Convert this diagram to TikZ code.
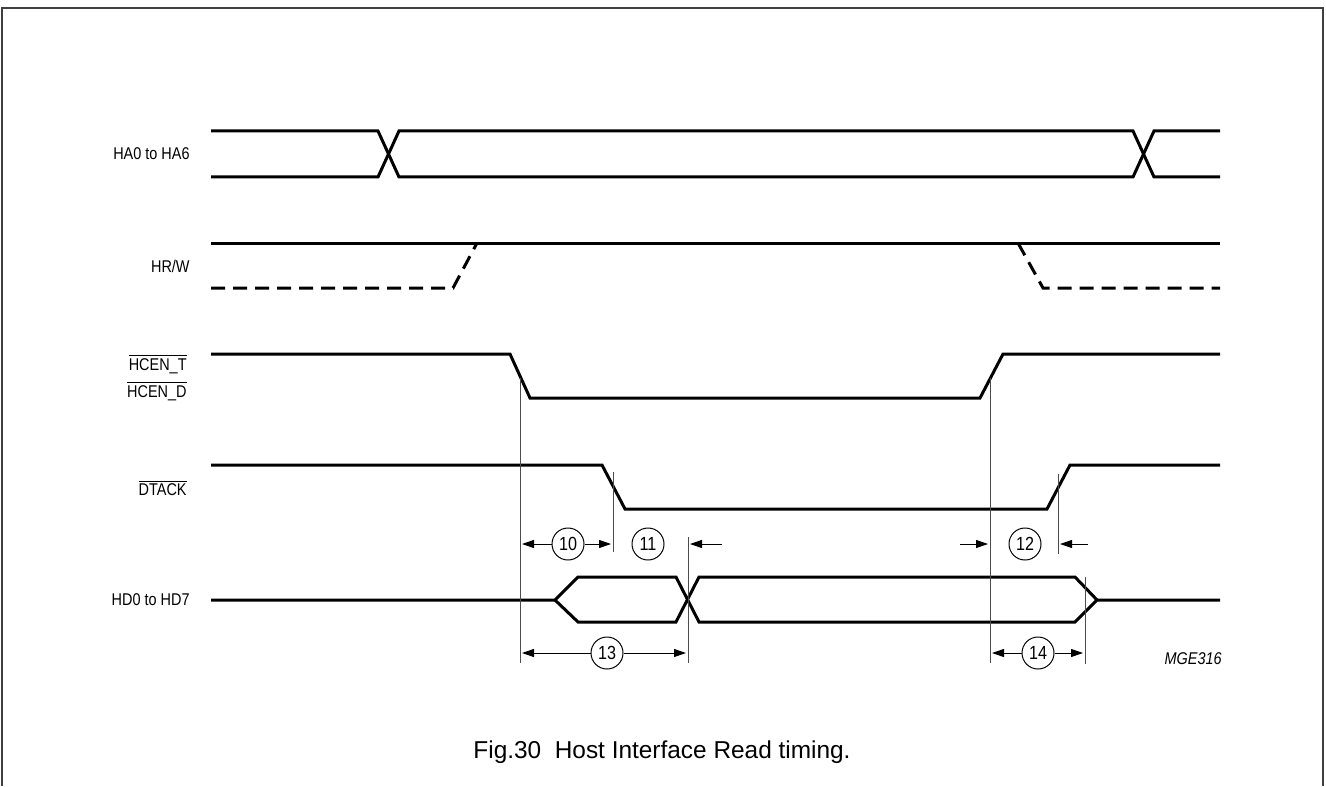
\documentclass[tikz,border=0pt]{standalone}
\usepackage{fontspec}
\setmainfont{Liberation Sans}
\newfontfamily\narrowfont[FakeStretch=0.85]{Liberation Sans}
\usetikzlibrary{arrows.meta}

\begin{document}
\begin{tikzpicture}[x=0.5pt,y=-0.5pt,
    wave/.style={line width=1.5pt,line join=miter},
    wavedash/.style={wave,dash pattern=on 7pt off 4pt},
    refline/.style={line width=0.5pt,black!70},
    dimarrow/.style={line width=0.5pt,-{Triangle[length=6pt,width=4pt]}},
    tnum/.style={circle,draw,line width=0.5pt,minimum size=16pt,inner sep=0pt,font=\narrowfont\fontsize{9.5}{10}\selectfont},
    siglabel/.style={anchor=east,inner sep=0pt,font=\narrowfont\fontsize{8.5}{9}\selectfont}]
        % fix the size of the page
        \useasboundingbox (0,0) rectangle (1326,786);
        % open frame round the figure
        \draw[line width=1.2pt,black!75] (2,786) -- (2,8) -- (1323,8) -- (1323,786);
        % names of the signals
        \node[siglabel] (lHA) at (190,154) {HA0 to HA6};
        \node[siglabel] (lRW) at (190,266) {HR/W};
        \node[siglabel] (lCT) at (187,364) {$\overline{\mbox{HCEN\_T}}$};
        \node[siglabel] (lCD) at (187,391) {$\overline{\mbox{HCEN\_D}}$};
        \node[siglabel] (lDT) at (187,488) {$\overline{\mbox{DTACK}}$};
        \node[siglabel] (lHD) at (190,600) {HD0 to HD7};
        % address bus
        \draw[wave] (211,131) -- (378,131) -- (399,177) -- (1133,177) -- (1154,131) -- (1220,131);
        \draw[wave] (211,177) -- (378,177) -- (399,131) -- (1133,131) -- (1154,177) -- (1220,177);
        % read / write line
        \draw[wave] (211,243) -- (1220,243);
        \draw[wavedash] (211,288) -- (453,288) -- (477,243);
        \draw[wavedash] (1018,243) -- (1043,288) -- (1220,288);
        % chip enable
        \draw[wave] (211,354) -- (510,354) -- (530,398) -- (980,398) -- (1003,354) -- (1220,354);
        % acknowledge
        \draw[wave] (211,465) -- (602,465) -- (625,509) -- (1047,509) -- (1070,465) -- (1220,465);
        % data bus
        \draw[wave] (211,600) -- (555,600) -- (578,577) -- (676,577) -- (699,622) -- (1075,622) -- (1097,600) -- (1220,600);
        \draw[wave] (555,600) -- (578,622) -- (676,622) -- (699,577) -- (1075,577) -- (1097,600);
        % thin reference lines
        \foreach \n/\x/\ya/\yb in {vA/520/378/663, vB/613/472/552, vC/688/537/663,
                                  vD/990/378/663, vE/1058/474/554, vF/1085/577/664}{
            \draw[refline] (\x,\ya) -- (\x,\yb) coordinate (\n);
        }
        % timing numbers
        \node[tnum] (t10) at (568,544) {10};
        \node[tnum] (t11) at (648,544) {11};
        \node[tnum] (t12) at (1025,544) {12};
        \node[tnum] (t13) at (607,653) {13};
        \node[tnum] (t14) at (1038,653) {14};
        % free ends of the outside arrows
        \coordinate (o11) at (722,544);
        \coordinate (i12) at (960,544);
        \coordinate (o12) at (1088,544);
        % dimension arrows
        \draw[dimarrow] (t10.west) -- ([xshift=1pt]vA |- t10);
        \draw[dimarrow] (t10.east) -- ([xshift=-1pt]vB |- t10);
        \draw[dimarrow] (o11) -- ([xshift=1pt]vC |- t11);
        \draw[dimarrow] (i12) -- ([xshift=-1pt]vD |- t12);
        \draw[dimarrow] (o12) -- ([xshift=1pt]vE |- t12);
        \draw[dimarrow] (t13.west) -- ([xshift=1pt]vA |- t13);
        \draw[dimarrow] (t13.east) -- ([xshift=-1pt]vC |- t13);
        \draw[dimarrow] (t14.west) -- ([xshift=1pt]vD |- t14);
        \draw[dimarrow] (t14.east) -- ([xshift=-1pt]vF |- t14);
        % drawing code and caption
        \node[anchor=east,inner sep=0pt,font=\narrowfont\fontsize{8.5}{9}\selectfont\itshape] (code) at (1222,659) {MGE316};
        \node[inner sep=0pt,font=\fontsize{12.2}{14}\selectfont] (cap) at (662,752) {Fig.30\ \ Host Interface Read timing.};
    \end{tikzpicture}
\end{document}
